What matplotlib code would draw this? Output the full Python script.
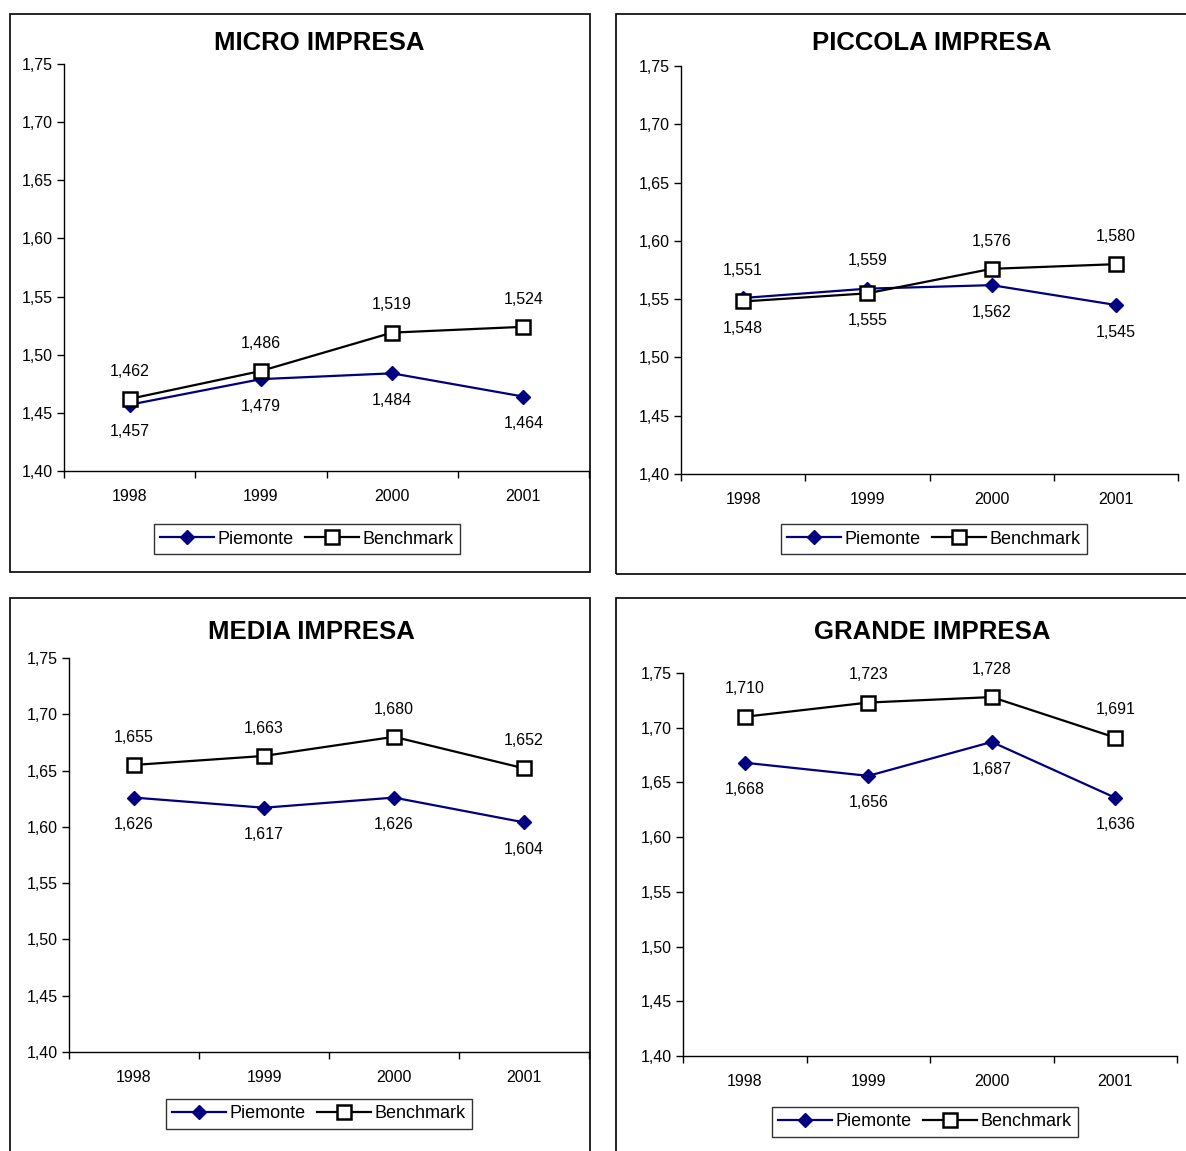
import matplotlib
matplotlib.use("Agg")
import matplotlib.pyplot as plt
from matplotlib.patches import Rectangle

plt.rcParams['font.family'] = ['Liberation Sans', 'DejaVu Sans']

years = ['1998', '1999', '2000', '2001']
titles = ['MICRO IMPRESA', 'PICCOLA IMPRESA', 'MEDIA IMPRESA', 'GRANDE IMPRESA']
series_names = ['Piemonte', 'Benchmark']

micro_piemonte = [1.457, 1.479, 1.484, 1.464]
micro_benchmark = [1.462, 1.486, 1.519, 1.524]
piccola_piemonte = [1.551, 1.559, 1.562, 1.545]
piccola_benchmark = [1.548, 1.555, 1.576, 1.580]
media_piemonte = [1.626, 1.617, 1.626, 1.604]
media_benchmark = [1.655, 1.663, 1.680, 1.652]
grande_piemonte = [1.668, 1.656, 1.687, 1.636]
grande_benchmark = [1.710, 1.723, 1.728, 1.691]

y_ticks = [1.40, 1.45, 1.50, 1.55, 1.60, 1.65, 1.70, 1.75]

W, H = 1186, 1151
fig = plt.figure(figsize=(W / 100, H / 100), dpi=100)
fig.patch.set_facecolor('white')


def frac_rect(l, r, t, b):
    return [l / W, 1 - b / H, (r - l) / W, (b - t) / H]


def fmt(v, nd):
    return f"{v:.{nd}f}".replace('.', ',')


panels = [
    # data, border (l, t, r, b), axes (l, r, t, b), title (x, y), legend center (x, y)
    dict(p=micro_piemonte, b=micro_benchmark, border=(10, 14, 590, 572),
         ax=(64, 589, 64, 471), title=(319, 43), leg=(307, 539)),
    dict(p=piccola_piemonte, b=piccola_benchmark, border=(616, 14, 1195, 574),
         ax=(681, 1178, 66, 474), title=(932, 43), leg=(934, 539)),
    dict(p=media_piemonte, b=media_benchmark, border=(10, 598, 590, 1160),
         ax=(69, 589, 658, 1052), title=(311, 632), leg=(319, 1114)),
    dict(p=grande_piemonte, b=grande_benchmark, border=(616, 598, 1195, 1160),
         ax=(683, 1177, 673, 1056), title=(932, 632), leg=(925, 1122)),
]

navy = '#000080'

for i, pan in enumerate(panels):
    l, t, r, b = pan['border']
    fig.add_artist(Rectangle((l / W, 1 - b / H), (r - l) / W, (b - t) / H,
                             transform=fig.transFigure, fill=False,
                             edgecolor='black', linewidth=1.2, zorder=0))
    al, ar, at, ab = pan['ax']
    ax = fig.add_axes(frac_rect(al, ar, at, ab))
    ax.set_facecolor('none')
    x = list(range(len(years)))
    ax.plot(x, pan['p'], color=navy, lw=1.6, marker='D', markersize=7.5,
            markerfacecolor=navy, markeredgecolor=navy, label=series_names[0],
            zorder=3, clip_on=False)
    ax.plot(x, pan['b'], color='black', lw=1.6, marker='s', markersize=10,
            markerfacecolor='white', markeredgecolor='black', markeredgewidth=1.8,
            label=series_names[1], zorder=4, clip_on=False)
    for xi, vp, vb in zip(x, pan['p'], pan['b']):
        p_above = vp > vb
        ax.annotate(fmt(vp, 3), (xi, vp), xytext=(0, 20 if p_above else -19.5),
                    textcoords='offset points', ha='center', va='center', fontsize=11.5)
        ax.annotate(fmt(vb, 3), (xi, vb), xytext=(0, -19.5 if p_above else 20),
                    textcoords='offset points', ha='center', va='center', fontsize=11.5)
    ax.set_xlim(-0.5, len(years) - 0.5)
    ax.set_ylim(1.40, 1.75)
    ax.set_yticks(y_ticks)
    ax.set_yticklabels([fmt(v, 2) for v in y_ticks])
    ax.set_xticks(x)
    ax.set_xticklabels(years)
    ax.set_xticks([k - 0.5 for k in range(len(years) + 1)], minor=True)
    ax.tick_params(axis='x', which='major', length=0, pad=13, labelsize=11.5)
    ax.tick_params(axis='x', which='minor', length=5, width=1, direction='out')
    ax.tick_params(axis='y', which='major', length=5, width=1, direction='out',
                   pad=3, labelsize=11.5)
    for s in ['top', 'right']:
        ax.spines[s].set_visible(False)
    for s in ['left', 'bottom']:
        ax.spines[s].set_linewidth(1)
        ax.spines[s].set_color('black')
    tx, ty = pan['title']
    fig.text(tx / W, 1 - ty / H, titles[i], ha='center', va='center',
             fontsize=18.5, fontweight='bold')
    lx, ly = pan['leg']
    leg = ax.legend(loc='center', bbox_to_anchor=(lx / W, 1 - ly / H),
                    bbox_transform=fig.transFigure, ncol=2, fontsize=13,
                    frameon=True, fancybox=False, handlelength=3.0,
                    handletextpad=0.2, columnspacing=0.6, borderpad=0.35,
                    borderaxespad=0)
    leg.get_frame().set_edgecolor('black')
    leg.get_frame().set_linewidth(1)

fig.savefig('out.png', dpi=100, facecolor='white')
